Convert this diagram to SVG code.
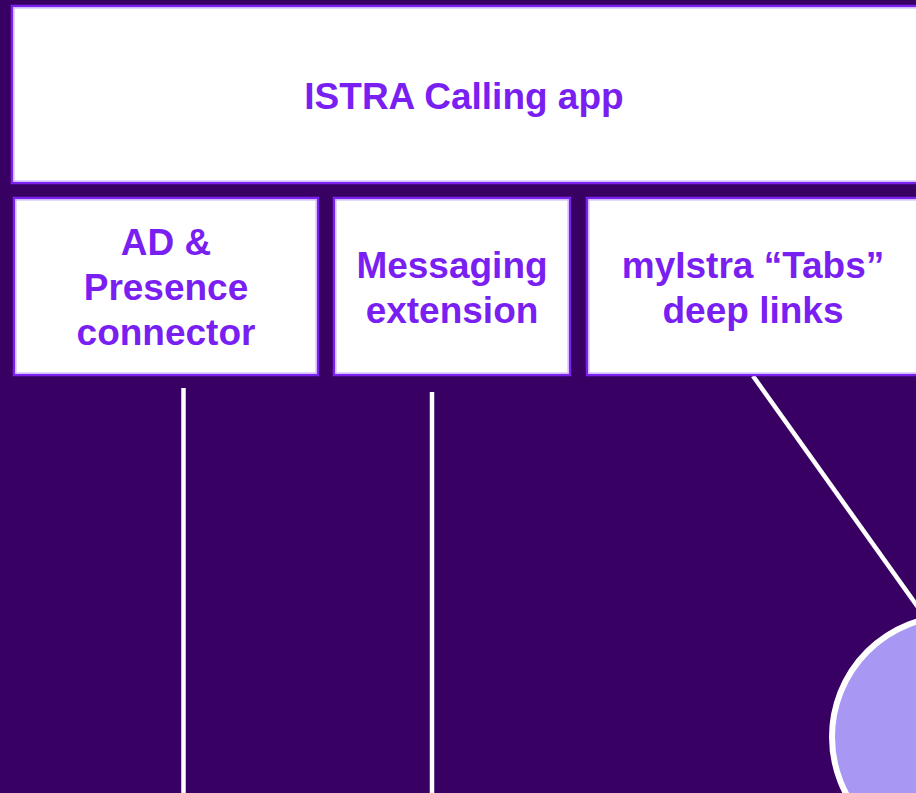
<svg xmlns="http://www.w3.org/2000/svg" width="916" height="793" viewBox="0 0 916 793">
<style>
.box{fill:#ffffff;stroke:#7b22ee;stroke-width:2.5}
.inner{fill:none;stroke:#c9b0fa;stroke-width:1}
.lbl{font-family:"Liberation Sans",Arial,sans-serif;font-weight:bold;font-size:37px;fill:#7a1ff2;text-anchor:middle}
.conn{stroke:#ffffff;stroke-width:4.5;fill:none}
</style>
<rect x="0" y="0" width="916" height="793" fill="#390064"/>
<g id="connectors">
<line class="conn" x1="183.5" y1="388" x2="183.5" y2="793"/>
<line class="conn" x1="432" y1="392" x2="432" y2="793"/>
<line class="conn" x1="753" y1="376" x2="930" y2="624"/>
</g>
<g id="circle-node">
<circle cx="953" cy="737" r="121" fill="#a898f4" stroke="#ffffff" stroke-width="6"/>
</g>
<g id="istra-calling-app">
<rect class="box" x="12" y="6" width="1000" height="177"/>
<rect class="inner" x="14" y="8" width="996" height="173"/>
<text class="lbl" x="464" y="109">ISTRA Calling app</text>
</g>
<g id="ad-presence">
<rect class="box" x="14" y="198" width="304" height="177"/>
<rect class="inner" x="16" y="200" width="300" height="173"/>
<text class="lbl" x="166" y="255">AD &amp;</text>
<text class="lbl" x="166" y="300">Presence</text>
<text class="lbl" x="166" y="345">connector</text>
</g>
<g id="messaging-extension">
<rect class="box" x="334" y="198" width="236" height="177"/>
<rect class="inner" x="336" y="200" width="232" height="173"/>
<text class="lbl" x="452" y="278">Messaging</text>
<text class="lbl" x="452" y="323">extension</text>
</g>
<g id="myistra-tabs">
<rect class="box" x="587" y="198" width="400" height="177"/>
<rect class="inner" x="589" y="200" width="396" height="173"/>
<text class="lbl" x="753" y="278">myIstra “Tabs”</text>
<text class="lbl" x="753" y="323">deep links</text>
</g>
</svg>
